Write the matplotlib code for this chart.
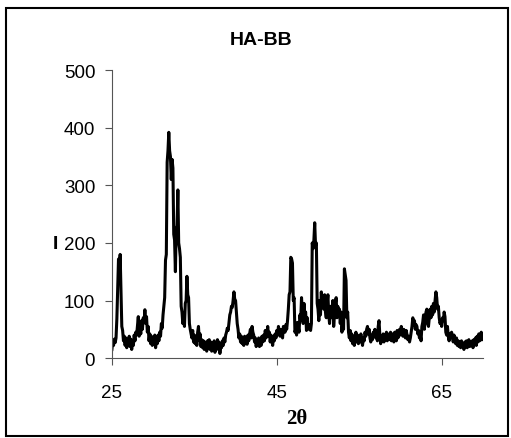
# XRD pattern of HA-BB
import numpy as np
import matplotlib.pyplot as plt
from matplotlib.patches import Rectangle

plt.rcParams['font.family'] = ['Liberation Sans', 'DejaVu Sans']

# scan: 25.0 to 69.9 deg 2theta, 0.1 deg step
two_theta = np.round(np.arange(250, 700) * 0.1, 1)

intensity = [
    15, 28, 22, 33, 27, 35, 68, 120, 172, 150,      # 25
    180, 120, 55, 48, 30, 38, 22, 35, 18, 30,        # 26
    25, 38, 20, 33, 15, 28, 22, 40, 30, 45,          # 27
    40, 55, 72, 38, 58, 42, 65, 50, 70, 62,          # 28
    84, 60, 72, 45, 55, 30, 42, 25, 38, 22,          # 29
    35, 28, 40, 18, 36, 25, 40, 30, 45, 38,          # 30
    60, 52, 75, 90, 105, 170, 180, 340, 360, 392,    # 31
    360, 350, 310, 345, 330, 215, 205, 150, 225, 230,  # 32
    292, 200, 190, 175, 90, 80, 60, 72, 55, 95,      # 33
    100, 142, 110, 105, 60, 50, 42, 35, 48, 28,      # 34
    40, 25, 38, 22, 45, 55, 30, 42, 20, 32,          # 35
    18, 30, 15, 28, 22, 12, 30, 20, 32, 15,          # 36
    28, 12, 25, 20, 30, 10, 26, 18, 32, 15,          # 37
    28, 8, 24, 18, 30, 22, 35, 28, 40, 45,           # 38
    52, 48, 62, 75, 80, 90, 88, 100, 115, 102,       # 39
    100, 80, 60, 50, 35, 42, 28, 38, 25, 35,         # 40
    22, 38, 26, 35, 24, 40, 30, 42, 50, 35,          # 41
    55, 45, 40, 28, 35, 20, 30, 25, 35, 20,          # 42
    32, 22, 38, 28, 40, 30, 48, 35, 42, 55,          # 43
    38, 45, 28, 40, 32, 22, 38, 30, 42, 35,          # 44
    48, 40, 55, 45, 38, 50, 42, 35, 55, 50,          # 45
    45, 58, 50, 65, 85, 110, 115, 175, 172, 165,     # 46
    100, 105, 45, 50, 40, 62, 55, 45, 75, 65,        # 47
    105, 80, 60, 95, 75, 80, 48, 70, 50, 58,         # 48
    52, 48, 60, 200, 190, 205, 235, 195, 200, 95,    # 49
    85, 65, 100, 75, 115, 90, 105, 85, 110, 80,      # 50
    70, 95, 110, 75, 60, 90, 85, 70, 100, 55,        # 51
    75, 95, 105, 70, 90, 72, 85, 60, 80, 45,         # 52
    62, 50, 155, 145, 135, 70, 80, 45, 35, 48,       # 53
    30, 42, 25, 38, 22, 35, 45, 28, 40, 25,          # 54
    38, 28, 42, 30, 22, 35, 30, 45, 38, 50,          # 55
    55, 42, 50, 35, 28, 40, 32, 45, 38, 50,          # 56
    35, 45, 30, 55, 65, 40, 25, 38, 30, 42,          # 57
    28, 40, 35, 45, 30, 42, 38, 32, 45, 30,          # 58
    42, 35, 28, 45, 38, 30, 48, 35, 42, 50,          # 59
    40, 55, 45, 38, 50, 45, 35, 48, 40, 32,          # 60
    38, 28, 35, 45, 55, 70, 60, 65, 50, 58,          # 61
    55, 42, 48, 35, 40, 30, 55, 62, 75, 50,          # 62
    68, 80, 85, 60, 55, 70, 85, 70, 90, 75,          # 63
    95, 80, 100, 115, 105, 85, 90, 70, 60, 65,       # 64
    55, 70, 65, 80, 72, 45, 40, 55, 38, 30,          # 65
    42, 35, 45, 38, 28, 40, 32, 25, 35, 22,          # 66
    30, 20, 28, 18, 30, 22, 25, 15, 28, 20,          # 67
    30, 18, 25, 32, 20, 28, 22, 30, 18, 32,          # 68
    25, 35, 22, 38, 28, 42, 30, 35, 45, 32,          # 69
]

x_ticks = [25, 45, 65]
y_ticks = [0, 100, 200, 300, 400, 500]

fig = plt.figure(figsize=(5.11, 4.39), dpi=100)
ax = fig.add_axes([0.219, 0.182, 0.726, 0.656])

ax.plot(two_theta, intensity, color='black', linewidth=2.2)

ax.set_xlim(25, 70)
ax.set_ylim(0, 500)
ax.set_xticks(x_ticks)
ax.set_yticks(y_ticks)
ax.tick_params(labelsize=13.5, direction='out', length=5, width=0.8,
               color='#555555', pad=7)
ax.tick_params(axis='x', pad=14)
for side in ['top', 'right']:
    ax.spines[side].set_visible(False)
for side in ['left', 'bottom']:
    ax.spines[side].set_color('#555555')
    ax.spines[side].set_linewidth(0.8)

fig.text(0.511, 0.908, 'HA-BB', ha='center', va='center',
         fontsize=14, fontweight='bold')
fig.text(0.108, 0.442, 'I', ha='center', va='center',
         fontsize=14, fontweight='bold')
fig.text(0.581, 0.045, '2θ', ha='center', va='center',
         fontsize=15, fontweight='bold', family='Liberation Serif')

# border round the whole chart
fig.patches.append(Rectangle((6 / 511, 2 / 439), 502 / 511, 428 / 439,
                             transform=fig.transFigure, fill=False,
                             edgecolor='black', linewidth=1.5))

fig.savefig('out.png', dpi=100)
